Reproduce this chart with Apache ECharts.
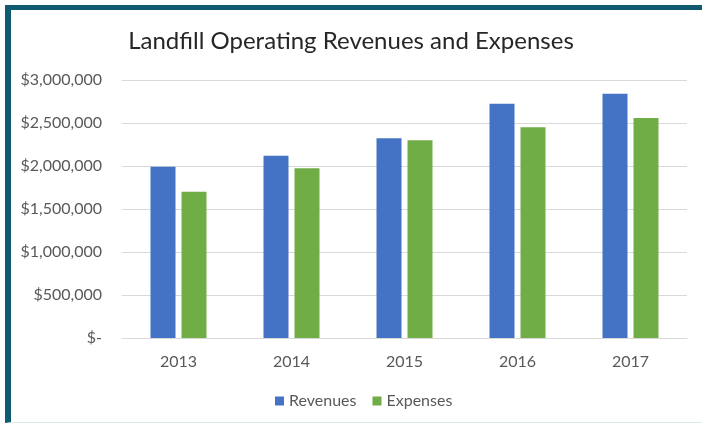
<!DOCTYPE html>
<html>
<head>
<meta charset="utf-8">
<script src="https://cdn.jsdelivr.net/npm/echarts@6/dist/echarts.min.js"></script>
<style>
html,body{margin:0;padding:0;background:#fff;}
#frame{position:absolute;left:5px;top:5px;width:697px;height:418px;border-top:5px solid #0f5a6e;border-left:6px solid #0f5a6e;border-bottom:1px solid #dde8ea;box-sizing:border-box;}
#chart{position:absolute;left:0;top:0;width:702px;height:425px;}
</style>
</head>
<body>
<div id="frame"></div>
<div id="chart"></div>
<script>
const titleText = 'Landfill Operating Revenues and Expenses';
const years = ['2013', '2014', '2015', '2016', '2017'];
const revenues = [1990000, 2120000, 2322000, 2724000, 2840000];
const expenses = [1700000, 1973000, 2299000, 2450000, 2558000];
const yTickValues = [0, 500000, 1000000, 1500000, 2000000, 2500000, 3000000];
const yTickLabels = ['$-', '$500,000', '$1,000,000', '$1,500,000', '$2,000,000', '$2,500,000', '$3,000,000'];

const font = 'Lato, "Open Sans", sans-serif';
const chart = echarts.init(document.getElementById('chart'), null, {renderer: 'canvas'});
chart.setOption({
  animation: false,
  backgroundColor: 'transparent',
  title: {
    text: titleText,
    left: 'center',
    top: 24,
    textStyle: {fontFamily: font, fontSize: 24, fontWeight: 'normal', color: '#262626'}
  },
  legend: {
    data: ['Revenues', 'Expenses'],
    left: 270,
    top: 388,
    itemWidth: 9,
    itemHeight: 9,
    itemGap: 16,
    icon: 'rect',
    textStyle: {fontFamily: font, fontSize: 16, color: '#595959'}
  },
  grid: {left: 122, right: 15, top: 80, bottom: 87, containLabel: false},
  xAxis: {
    type: 'category',
    data: years,
    axisLine: {lineStyle: {color: '#d9d9d9'}},
    axisTick: {show: false},
    axisLabel: {fontFamily: font, fontSize: 16, color: '#595959', margin: 16}
  },
  yAxis: {
    type: 'value',
    min: 0,
    max: 3000000,
    interval: 500000,
    axisLine: {show: false},
    axisTick: {show: false},
    splitLine: {lineStyle: {color: '#d9d9d9'}},
    axisLabel: {
      fontFamily: font, fontSize: 16, color: '#595959', margin: 20,
      formatter: function (v) {
        const i = yTickValues.indexOf(v);
        return i >= 0 ? yTickLabels[i] : '';
      }
    }
  },
  series: [
    {name: 'Revenues', type: 'bar', data: revenues, barWidth: 25, barGap: '24%', itemStyle: {color: '#4472C4'}},
    {name: 'Expenses', type: 'bar', data: expenses, barWidth: 25, barGap: '24%', itemStyle: {color: '#70AD47'}}
  ]
});
</script>
</body>
</html>
